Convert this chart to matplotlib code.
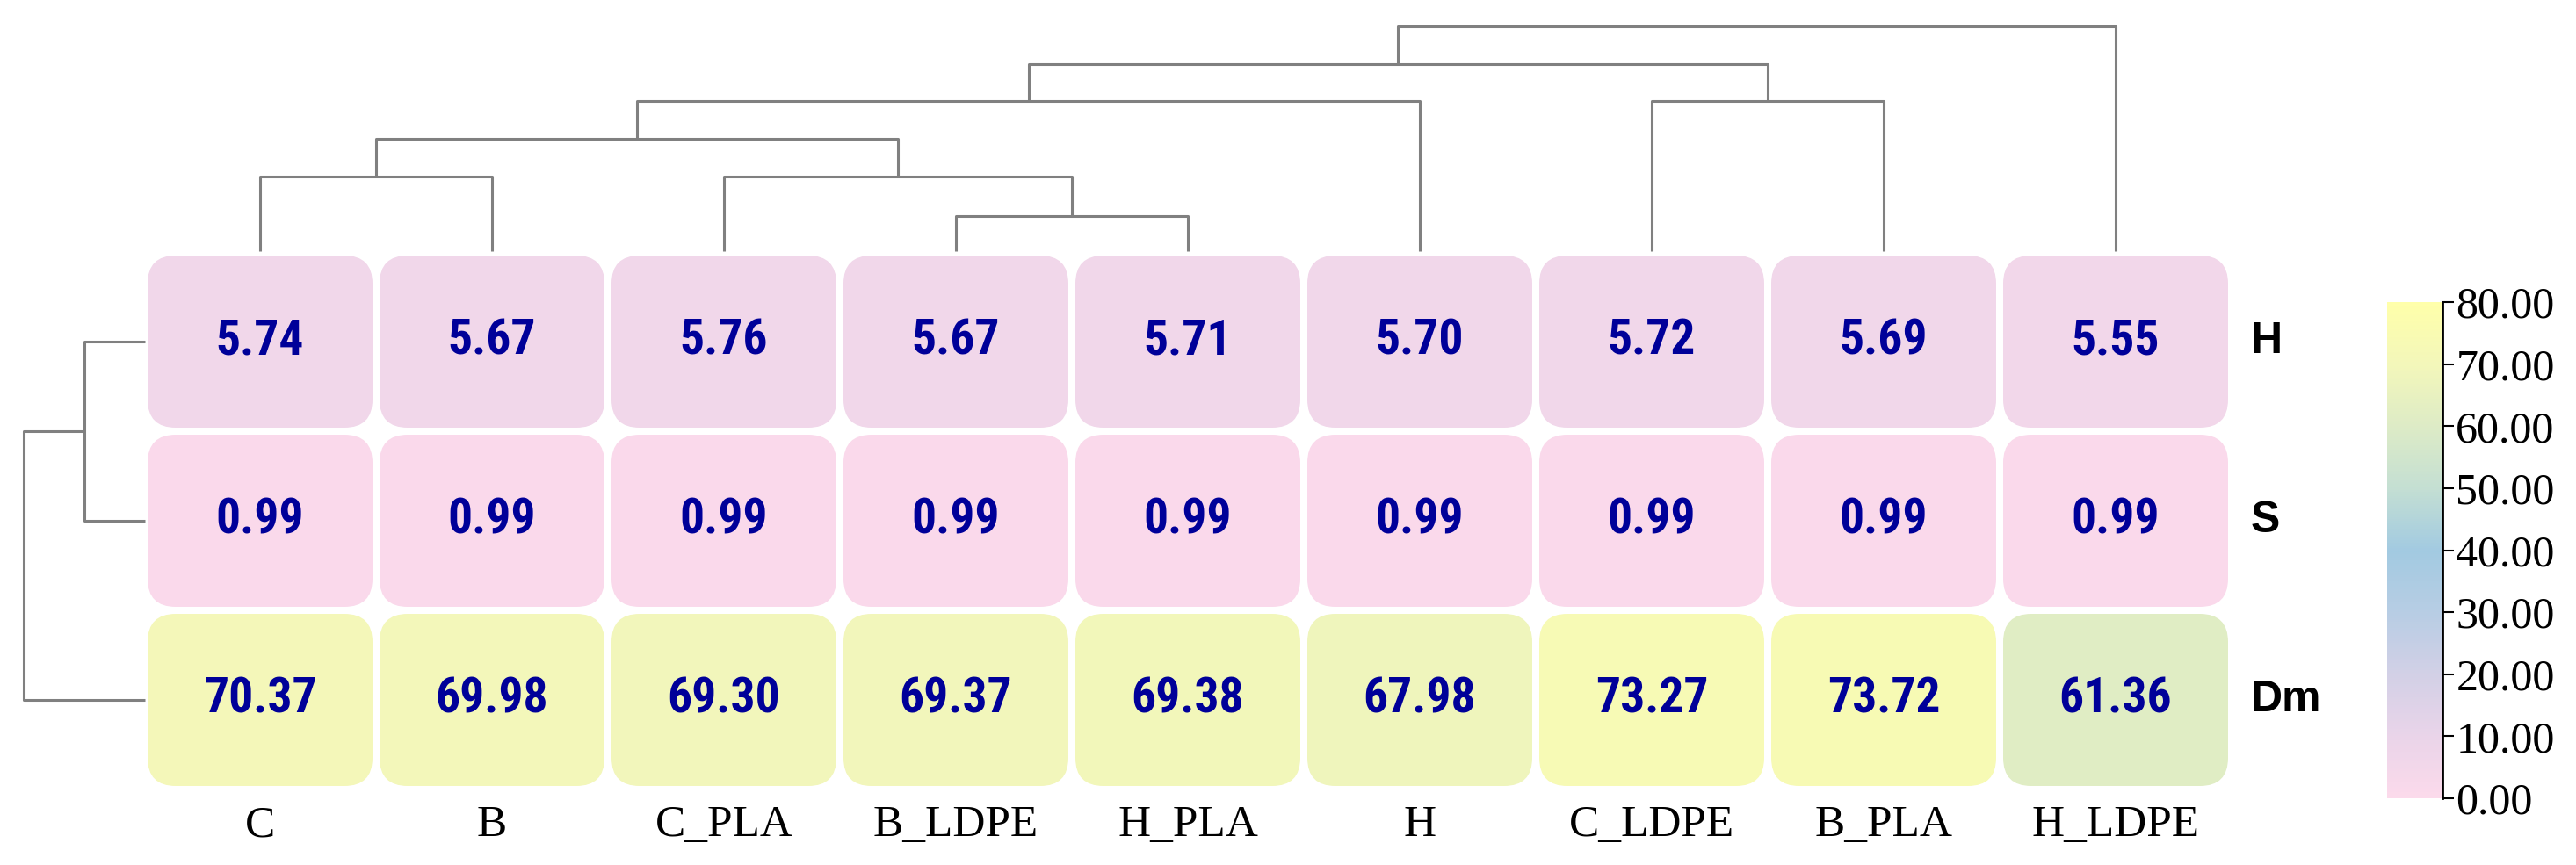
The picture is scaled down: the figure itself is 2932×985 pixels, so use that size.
import numpy as np
import matplotlib
matplotlib.use('Agg')
import matplotlib.pyplot as plt
from matplotlib.colors import LinearSegmentedColormap, Normalize
from matplotlib.patches import FancyBboxPatch
from matplotlib.cm import ScalarMappable

# data
samples = ['C', 'B', 'C_PLA', 'B_LDPE', 'H_PLA', 'H', 'C_LDPE', 'B_PLA', 'H_LDPE']
indices = ['H', 'S', 'Dm']
h_vals = [5.74, 5.67, 5.76, 5.67, 5.71, 5.70, 5.72, 5.69, 5.55]
s_vals = [0.99, 0.99, 0.99, 0.99, 0.99, 0.99, 0.99, 0.99, 0.99]
dm_vals = [70.37, 69.98, 69.30, 69.37, 69.38, 67.98, 73.27, 73.72, 61.36]

# column tree: (left, right, height), leaves 0..8, new nodes 9..
col_merges = [(3, 4, 0.93), (0, 1, 2.0), (2, 9, 2.0), (10, 11, 3.0),
              (12, 5, 4.0), (6, 7, 4.0), (13, 14, 5.0), (15, 8, 6.0)]
# row tree, leaves 0..2
row_merges = [(0, 1, 1.0), (3, 2, 2.0)]

cbar_ticks = [0, 10, 20, 30, 40, 50, 60, 70, 80]
cmap_colors = ['#fcdaeb', '#e9d4e9', '#d2d0e6', '#b7cde4', '#a2cae1',
               '#c4dfd3', '#ddebc6', '#f3f7ba', '#ffffaa']

values = np.array([h_vals, s_vals, dm_vals])

W, H = 2932, 985
fig = plt.figure(figsize=(W / 100, H / 100), dpi=100)

def px_axes(x0, y0, x1, y1):
    return fig.add_axes([x0 / W, 1 - y1 / H, (x1 - x0) / W, (y1 - y0) / H])

cmap = LinearSegmentedColormap.from_list('soft', list(zip(np.linspace(0, 1, len(cmap_colors)), cmap_colors)))
norm = Normalize(vmin=0, vmax=80)

# heatmap of rounded cells
hx0, hy0, hx1, hy1 = 164, 287, 2540, 899
ax = px_axes(hx0, hy0, hx1, hy1)
ncol, nrow = len(samples), len(indices)
ax.set_xlim(0, ncol)
ax.set_ylim(nrow, 0)
ax.axis('off')
xpx = (hx1 - hx0) / ncol
ypx = (hy1 - hy0) / nrow
gx, gy = 4 / xpx, 4 / ypx
rad = 32 / xpx
for r in range(nrow):
    for c in range(ncol):
        v = values[r, c]
        box = FancyBboxPatch((c + gx + rad, r + gy + rad * xpx / ypx),
                             1 - 2 * gx - 2 * rad, 1 - 2 * gy - 2 * rad * xpx / ypx,
                             boxstyle=f'round,pad={rad},rounding_size={rad}',
                             mutation_aspect=xpx / ypx,
                             facecolor=cmap(norm(v)), edgecolor='none')
        ax.add_patch(box)
        ax.text(c + 0.5, r + 0.5, f'{v:.2f}', ha='center', va='center',
                fontsize=40, fontweight='bold', color='#000099',
                family=['Roboto Condensed', 'DejaVu Sans'])

for r, name in enumerate(indices):
    ax.text(ncol + 22 / xpx, r + 0.5, name, ha='left', va='center',
            fontsize=36, fontweight='bold', family=['Liberation Sans', 'DejaVu Sans'])
for c, name in enumerate(samples):
    ax.text(c + 0.5, nrow + 41 / ypx, name, ha='center', va='center',
            fontsize=37, family=['Liberation Serif', 'DejaVu Serif'])

# dendrograms
line_kw = dict(color='#808080', lw=2.2, clip_on=False, solid_capstyle='butt')

def tree_positions(nleaf, merges):
    pos = {i: i + 0.5 for i in range(nleaf)}
    hgt = {i: 0.0 for i in range(nleaf)}
    segs = []
    for k, (a, b, d) in enumerate(merges):
        segs.append(([pos[a], pos[a], pos[b], pos[b]], [hgt[a], d, d, hgt[b]]))
        pos[nleaf + k] = (pos[a] + pos[b]) / 2
        hgt[nleaf + k] = d
    return segs

axc = px_axes(hx0, 30, hx1, hy0 - 1)
axc.set_xlim(0, ncol)
axc.set_ylim(0, 6.0)
axc.axis('off')
for xs, ys in tree_positions(ncol, col_merges):
    axc.plot(xs, ys, **line_kw)

axr = px_axes(27, hy0, 165, hy1)
axr.set_ylim(nrow, 0)
axr.set_xlim(2.0, 0)
axr.axis('off')
for ys, xs in tree_positions(nrow, row_merges):
    axr.plot(xs, ys, **line_kw)

# colorbar
cax = px_axes(2717, 344, 2780, 909)
sm = ScalarMappable(norm=norm, cmap=cmap)
cb = fig.colorbar(sm, cax=cax, ticks=cbar_ticks)
cb.outline.set_visible(False)
cax.plot([1, 1], [0, 1], transform=cax.transAxes, color='black', lw=2, clip_on=False)
cax.tick_params(length=9, width=1.5, pad=2, labelsize=36)
cax.set_yticklabels([f'{t:.2f}' for t in cbar_ticks])
for lab in cax.get_yticklabels():
    lab.set_family(['Liberation Serif', 'DejaVu Serif'])

fig.savefig('out.png', dpi=100)
